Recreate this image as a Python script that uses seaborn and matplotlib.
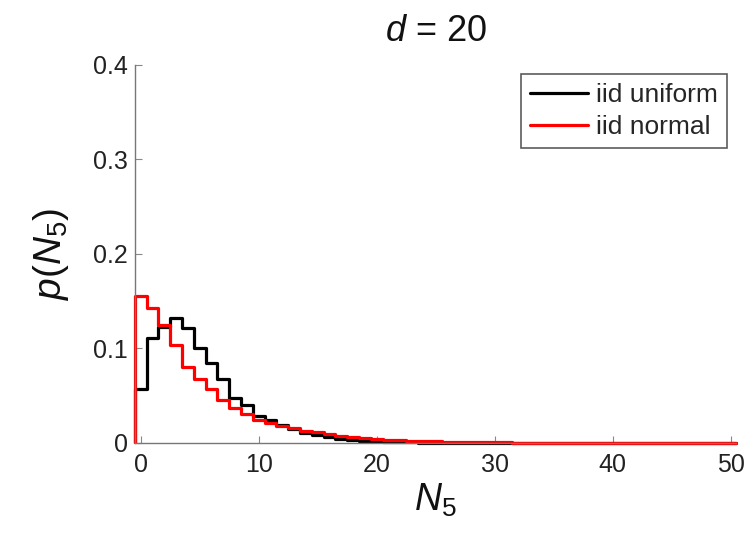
import numpy as np
import pandas as pd
import matplotlib
matplotlib.use("Agg")
import matplotlib.pyplot as plt
import seaborn as sns

# ---- data ----
n5 = np.arange(0, 51)
uniform_p = [0.057, 0.111, 0.123, 0.132, 0.121, 0.100, 0.084, 0.067, 0.047, 0.040,
             0.028, 0.024, 0.019, 0.0145, 0.010, 0.0085, 0.006, 0.0045, 0.0032, 0.0023,
             0.0016, 0.0011, 0.0007, 0.0005, 0.0003, 0.0002, 0.0001] + [0.0] * 24
normal_p = [0.155, 0.143, 0.125, 0.104, 0.080, 0.068, 0.057, 0.045, 0.037, 0.031,
            0.024, 0.021, 0.018, 0.0155, 0.013, 0.011, 0.009, 0.0075, 0.006, 0.005,
            0.004, 0.0033, 0.0027, 0.0022, 0.0018, 0.0015, 0.0012, 0.001, 0.0008, 0.0006,
            0.0005, 0.0004, 0.0003, 0.0002, 0.0002, 0.0001] + [0.0] * 15
series_labels = ["iid uniform", "iid normal"]
series_colors = ["black", "red"]
x_ticks = [0, 10, 20, 30, 40, 50]
y_ticks = [0, 0.1, 0.2, 0.3, 0.4]
y_ticklabels = ["0", "0.1", "0.2", "0.3", "0.4"]

sns.set_style("white")
plt.rcParams["font.family"] = ["Liberation Sans", "DejaVu Sans"]
plt.rcParams["mathtext.fontset"] = "custom"
plt.rcParams["mathtext.rm"] = "Liberation Sans"
plt.rcParams["mathtext.it"] = "Liberation Sans:italic"

fig = plt.figure(figsize=(7.53, 5.40), dpi=100)
ax = fig.add_axes([0.179, 0.18, 0.799, 0.70])

for vals, lab, col in zip([uniform_p, normal_p], series_labels, series_colors):
    df = pd.DataFrame({"N5": n5, "p": vals})
    sns.histplot(data=df, x="N5", weights="p", discrete=True, element="step",
                 fill=False, color=col, linewidth=2.3, label=lab, ax=ax, clip_on=False)
    ax.plot([n5[0] - 0.5, n5[0] - 0.5], [0, vals[0]], color=col, linewidth=2.3,
            clip_on=False, solid_capstyle="butt")

ax.set_xlim(n5[0] - 0.5, n5[-1] + 0.5)
ax.set_ylim(0, 0.4)
ax.set_xticks(x_ticks)
ax.set_yticks(y_ticks)
ax.set_yticklabels(y_ticklabels)
ax.tick_params(bottom=True, left=True, direction="in", length=5, width=0.8,
               labelsize=18, colors="#222222")
ax.tick_params(axis="x", pad=7, colors="#888888", labelcolor="#222222")
ax.tick_params(axis="y", pad=5, colors="#888888", labelcolor="#222222")
for s in ["top", "right"]:
    ax.spines[s].set_visible(False)
for s in ["left", "bottom"]:
    ax.spines[s].set_color("#777777")
    ax.spines[s].set_linewidth(1.0)

ax.set_title(r"$d$ = 20", fontsize=26, pad=17, color="#111111")
ax.set_xlabel(r"$N_5$", fontsize=27, labelpad=4, color="#111111")
ax.set_ylabel(r"$p(N_5)$", fontsize=28, labelpad=16, color="#111111")

leg = ax.legend(loc="upper right", fontsize=19, frameon=True, fancybox=False,
                handlelength=2.2, handletextpad=0.3, borderpad=0.35,
                labelspacing=0.3, borderaxespad=0,
                bbox_to_anchor=(0.985, 0.976))
leg.get_frame().set_edgecolor("#333333")
leg.get_frame().set_linewidth(1.2)
for h in leg.get_lines():
    h.set_linewidth(2.3)

fig.savefig("out.png", dpi=100, facecolor="white")
